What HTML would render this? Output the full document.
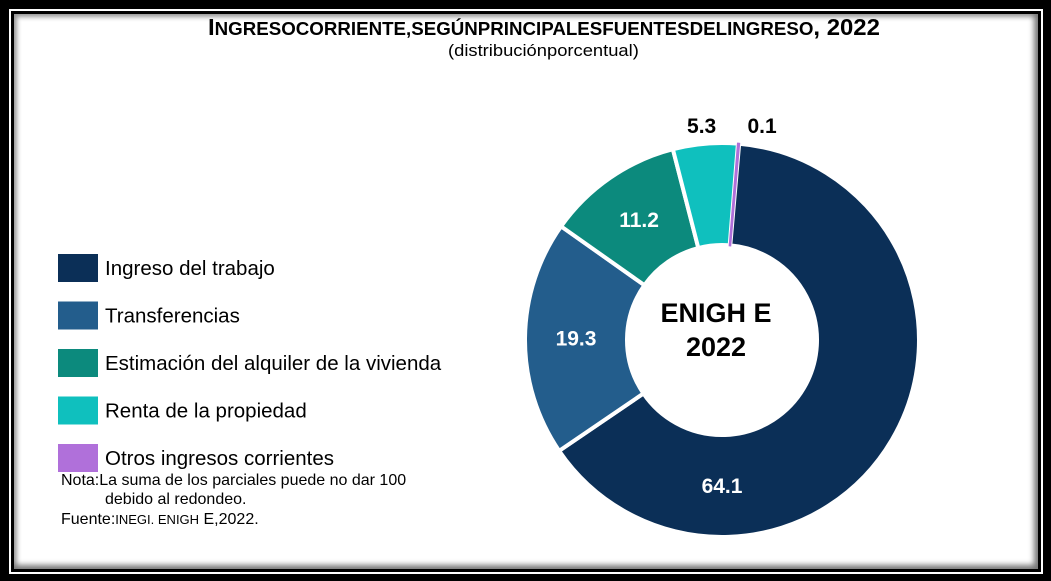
<!DOCTYPE html>
<html><head><meta charset="utf-8"><style>
body{margin:0;width:1051px;height:581px;overflow:hidden;background:#000;font-family:"Liberation Sans",sans-serif;}
#frame{position:absolute;left:9px;top:9px;width:1030px;height:561px;border:2px solid #fff;background:#000;}
#inner{position:absolute;left:3px;top:3px;right:3px;bottom:3px;background:#fff;box-shadow:inset -4px -4px 6px #777, inset 3px 3px 5px #999;}
.t{position:absolute;white-space:nowrap;}
</style></head><body>
<div id="frame"><div id="inner"></div></div>
<div class="t" style="left:208px;top:14px;font-size:23px;font-weight:bold;transform:scaleX(1.04);transform-origin:left;">I<span style="font-size:18px">NGRESOCORRIENTE,SEGÚNPRINCIPALESFUENTESDELINGRESO</span>, 2022</div>
<div class="t" style="left:448px;top:41px;font-size:17px;transform:scaleX(1.08);transform-origin:left;">(distribuciónporcentual)</div>
<svg id="chart" width="1051" height="581" style="position:absolute;left:0;top:0"></svg>
<div class="t" style="left:61px;top:471px;font-size:16px;line-height:19px;">Nota:La suma de los parciales puede no dar 100<br><span style="padding-left:44px">debido al redondeo.</span></div>
<div class="t" style="left:61px;top:511px;font-size:16px;">Fuente:<span style="font-size:13px">INEGI. ENIGH</span> E,2022.</div>
<script>
const categories=["Ingreso del trabajo","Transferencias","Estimación del alquiler de la vivienda","Renta de la propiedad","Otros ingresos corrientes"];
const values=[64.1,19.3,11.2,5.3,0.1];
const labels=["64.1","19.3","11.2","5.3","0.1"];
const colors=["#0b2f57","#235d8c","#0c8a7d","#0fc0be","#b070da"];
const svg=document.getElementById('chart');
const NS="http://www.w3.org/2000/svg";
const cx=722,cy=340,R=197,r=95;
const total=values.reduce((a,b)=>a+b,0);
let ang=5;
function pt(a,rad){const t=(a-90)*Math.PI/180;return [cx+rad*Math.cos(t),cy+rad*Math.sin(t)];}
values.forEach((v,i)=>{
  const sweep=v/total*360,a0=ang,a1=ang+sweep;ang=a1;
  const large=sweep>180?1:0;
  const [x0,y0]=pt(a0,R),[x1,y1]=pt(a1,R),[x2,y2]=pt(a1,r),[x3,y3]=pt(a0,r);
  const p=document.createElementNS(NS,'path');
  p.setAttribute('d',`M${x0},${y0}A${R},${R} 0 ${large} 1 ${x1},${y1}L${x2},${y2}A${r},${r} 0 ${large} 0 ${x3},${y3}Z`);
  p.setAttribute('fill',colors[i]);
  p.setAttribute('stroke',v<1?colors[i]:'#fff');p.setAttribute('stroke-width',v<1?'2':'4');
  
  
  svg.appendChild(p);
  let mid=(a0+a1)/2;
  if(a0<180&&a1>180)mid=180;
  let lx,ly,fill='#fff';
  if(v<8){const q=pt(mid,R+18);lx=q[0];ly=q[1];fill='#000';if(i===3)lx-=2;if(i===4)lx+=22;}
  else{const q=pt(mid,(R+r)/2);lx=q[0];ly=q[1];}
  const t=document.createElementNS(NS,'text');
  t.setAttribute('x',lx);t.setAttribute('y',ly+7);t.setAttribute('text-anchor','middle');
  t.setAttribute('font-size','21');t.setAttribute('font-weight','bold');t.setAttribute('fill',fill);
  t.setAttribute('font-family','Liberation Sans, sans-serif');
  
  
  t.textContent=labels[i];svg.appendChild(t);
  const ly2=268+i*47.5;
  const sq=document.createElementNS(NS,'rect');
  sq.setAttribute('x',58);sq.setAttribute('y',ly2-14);sq.setAttribute('width',40);sq.setAttribute('height',28);sq.setAttribute('fill',colors[i]);
  
  
  svg.appendChild(sq);
  const lt=document.createElementNS(NS,'text');
  lt.setAttribute('x',105);lt.setAttribute('y',ly2+7);lt.setAttribute('font-size','20.5');
  lt.setAttribute('font-family','Liberation Sans, sans-serif');
  
  
  lt.textContent=categories[i];svg.appendChild(lt);
});
["ENIGH E","2022"].forEach((s,k)=>{
  const t=document.createElementNS(NS,'text');
  t.setAttribute('x',716);t.setAttribute('y',322+k*34);t.setAttribute('text-anchor','middle');
  t.setAttribute('font-size','27');t.setAttribute('font-weight','bold');
  t.setAttribute('font-family','Liberation Sans, sans-serif');
  
  
  t.textContent=s;svg.appendChild(t);
});
</script>
</body></html>
